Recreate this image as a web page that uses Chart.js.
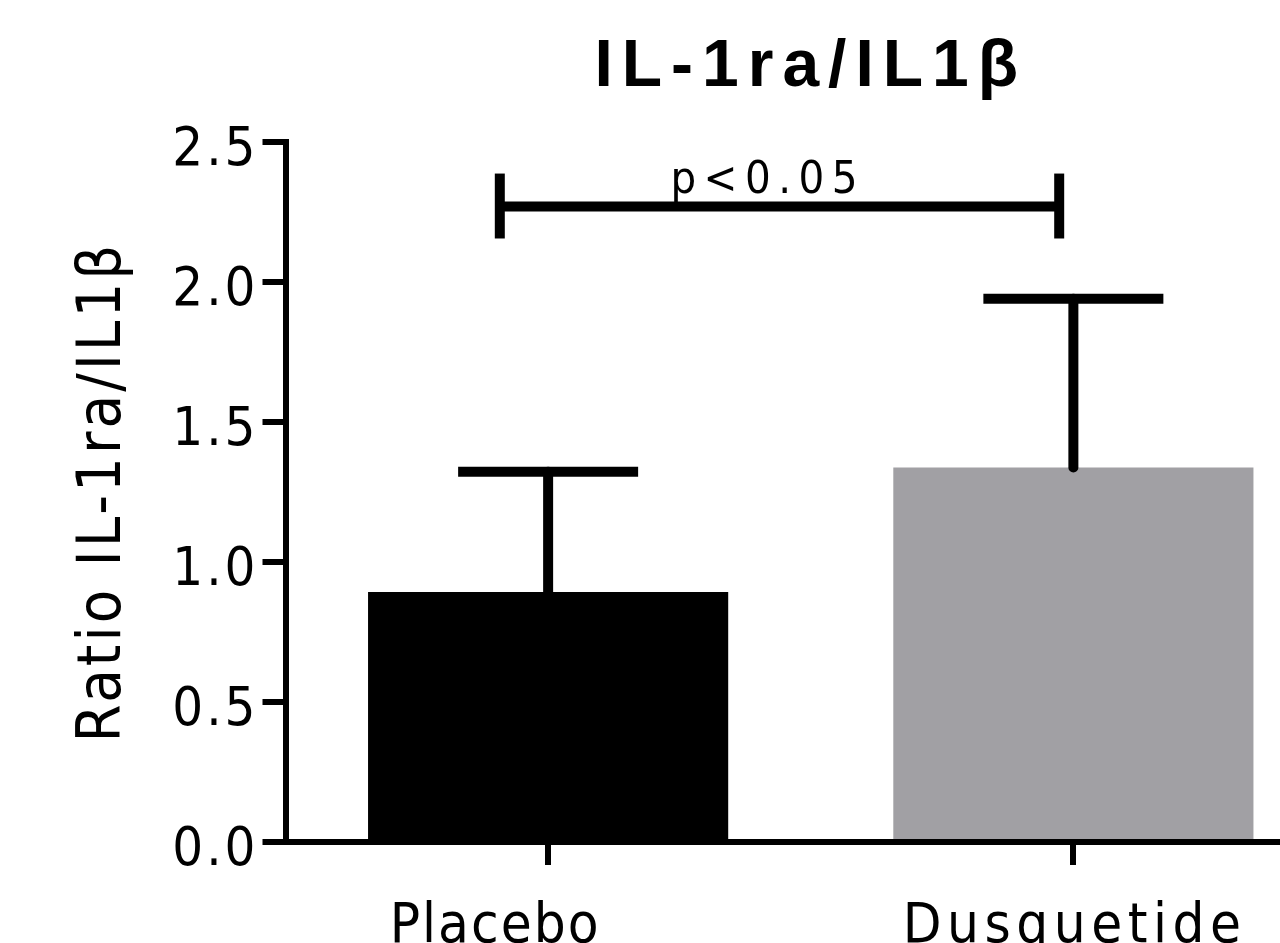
<!DOCTYPE html>
<html>
<head>
<meta charset="utf-8">
<script src="https://cdn.jsdelivr.net/npm/chart.js@4.4.1/dist/chart.umd.min.js"></script>
<style>
html,body{margin:0;padding:0;overflow:hidden;background:#ffffff;width:1280px;height:943px}
canvas{display:block}
</style>
</head>
<body>
<canvas id="c" width="1336" height="943" style="width:1336px;height:943px"></canvas>
<script>
// ---- data ----
const categories = ['Placebo', 'Dusquetide'];
const meanRatio = [0.893, 1.338];
const semRatio = [0.430, 0.603];
const yTickValues = [0, 0.5, 1.0, 1.5, 2.0, 2.5];
const chartTitle = 'IL-1ra/IL1β';
const yAxisTitle = 'Ratio IL-1ra/IL1β';
const significanceLabel = 'p<0.05';

// ---- style ----
const barColors = ['#000000', '#a1a0a4'];
const NARROW = "'Liberation Sans Narrow','Arial Narrow','DejaVu Sans Condensed',sans-serif";

const annotations = {
  id: 'annotations',
  beforeDraw(chart, args, opts) {
    chart.ctx.letterSpacing = opts.axisSpacing + 'px';
  },
  afterDatasetsDraw(chart, args, opts) {
    const {ctx, scales: {x, y}} = chart;
    const meta = chart.getDatasetMeta(0);
    ctx.save();
    ctx.strokeStyle = '#000';
    ctx.lineWidth = opts.lineWidth;
    // error bars (mean + SEM)
    meta.data.forEach((bar, i) => {
      const cx = bar.x;
      const top = y.getPixelForValue(meanRatio[i] + semRatio[i]);
      const base = y.getPixelForValue(meanRatio[i]);
      ctx.lineCap = 'round';
      ctx.beginPath(); ctx.moveTo(cx, base); ctx.lineTo(cx, top); ctx.stroke();
      ctx.lineCap = 'butt';
      ctx.beginPath(); ctx.moveTo(cx - opts.capHalf, top); ctx.lineTo(cx + opts.capHalf, top); ctx.stroke();
    });
    // significance bracket
    const b = opts.bracket;
    const x1 = x.getPixelForValue(b.from), x2 = x.getPixelForValue(b.to);
    const yl = y.getPixelForValue(b.level), ya = y.getPixelForValue(b.capHigh), yb = y.getPixelForValue(b.capLow);
    ctx.lineCap = 'butt';
    ctx.beginPath(); ctx.moveTo(x1, yl); ctx.lineTo(x2, yl); ctx.stroke();
    ctx.beginPath(); ctx.moveTo(x1, ya); ctx.lineTo(x1, yb); ctx.stroke();
    ctx.beginPath(); ctx.moveTo(x2, ya); ctx.lineTo(x2, yb); ctx.stroke();
    ctx.fillStyle = '#000';
    ctx.font = '45px ' + NARROW;
    ctx.letterSpacing = b.spacing + 'px';
    ctx.textAlign = 'center';
    ctx.textBaseline = 'alphabetic';
    ctx.fillText(significanceLabel, x.getPixelForValue(b.textAt) + b.spacing / 2, y.getPixelForValue(b.textLevel));
    ctx.restore();
  },
  afterDraw(chart, args, opts) {
    const {ctx, scales: {x}} = chart;
    const meta = chart.getDatasetMeta(0);
    ctx.save();
    ctx.fillStyle = '#000';
    ctx.font = '56px ' + NARROW;
    ctx.textAlign = 'center';
    ctx.textBaseline = 'alphabetic';
    categories.forEach((lab, i) => {
      const sp = opts.labelSpacing[i];
      ctx.letterSpacing = sp + 'px';
      ctx.fillText(lab, meta.data[i].x + opts.labelNudge[i] + sp / 2, x.top + opts.labelBaseline);
    });
    ctx.restore();
  }
};

const chart = new Chart(document.getElementById('c'), {
  type: 'bar',
  data: {
    labels: categories,
    datasets: [{
      data: meanRatio,
      backgroundColor: barColors,
      borderWidth: 0,
      barPercentage: 0.6857,
      categoryPercentage: 1.0
    }]
  },
  options: {
    responsive: false,
    devicePixelRatio: 1,
    animation: false,
    layout: {padding: 0},
    plugins: {
      legend: {display: false},
      tooltip: {enabled: false},
      title: {
        display: true,
        text: chartTitle,
        fullSize: false,
        color: '#000',
        font: {family: "'Liberation Sans',Arial,sans-serif", weight: 'bold', size: 66, lineHeight: 1.2},
        padding: {top: 28, bottom: 35}
      },
      annotations: {
        axisSpacing: 3,
        lineWidth: 10,
        capHalf: 90,
        bracket: {from: -0.092, to: 0.973, level: 2.27, capHigh: 2.388, capLow: 2.156, textAt: 0.411, textLevel: 2.32, spacing: 7.5},
        labelSpacing: [2, 5.5],
        labelNudge: [-54, -1.5],
        labelBaseline: 100
      }
    },
    scales: {
      x: {
        type: 'category',
        z: 1,
        offset: true,
        afterFit(s) { s.height = 101; },
        grid: {display: true, drawOnChartArea: false, offset: false, drawTicks: true, tickLength: 23, tickWidth: 6, tickColor: '#000', color: '#000', lineWidth: 6},
        border: {display: true, color: '#000', width: 6},
        ticks: {display: false}
      },
      y: {
        type: 'linear',
        z: 1,
        min: 0,
        max: 2.5,
        afterBuildTicks(s) { s.ticks = yTickValues.map(v => ({value: v})); },
        afterFit(s) { s.width = 285.5; },
        grid: {display: true, drawOnChartArea: false, drawTicks: true, tickLength: 23, tickWidth: 6, tickColor: '#000', color: '#000', lineWidth: 6},
        border: {display: true, color: '#000', width: 6},
        ticks: {
          color: '#000',
          font: {family: NARROW, size: 54},
          padding: 4,
          labelOffset: 9,
          callback: v => Number(v).toFixed(1)
        },
        title: {
          display: true,
          text: yAxisTitle,
          color: '#000',
          font: {family: NARROW, size: 61, lineHeight: 1.2},
          padding: {top: 68, bottom: 0}
        }
      }
    }
  },
  plugins: [annotations]
});

// wider letter spacing for the bold chart title only
if (chart.titleBlock) {
  const tb = chart.titleBlock;
  const origDraw = tb.draw.bind(tb);
  tb.draw = function () {
    const c = this.ctx;
    const prev = c.letterSpacing;
    c.letterSpacing = '9px';
    origDraw();
    c.letterSpacing = prev;
  };
  chart.draw();
}
</script>
</body>
</html>
